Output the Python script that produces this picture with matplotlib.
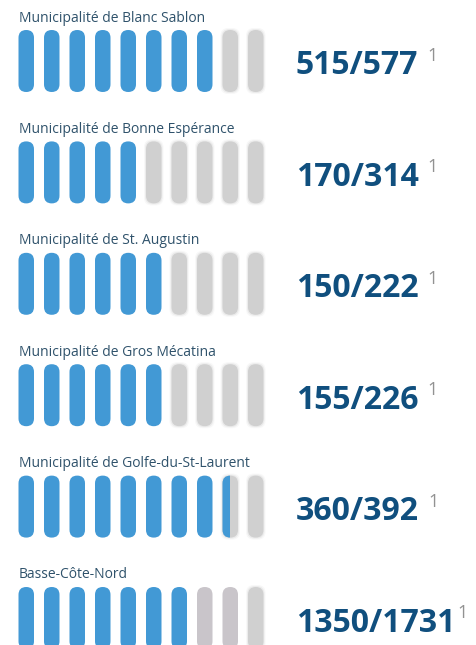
import matplotlib
matplotlib.use("Agg")
import matplotlib.pyplot as plt
from matplotlib.patches import FancyBboxPatch, Rectangle

labels = ["Municipalité de Blanc Sablon", "Municipalité de Bonne Espérance",
          "Municipalité de St. Augustin", "Municipalité de Gros Mécatina",
          "Municipalité de Golfe-du-St-Laurent", "Basse-Côte-Nord"]
numerators = [515, 170, 150, 155, 360, 1350]
denominators = [577, 314, 222, 226, 392, 1731]
filled_icons = [8, 5, 6, 6, 8.5, 7]
n_icons = 10

BLUE = "#4299d5"
GREY = "#d0d0d0"
GREY2 = "#c9c5ca"
NUM = "#104f7e"
LAB = "#2f526b"

W, H = 477, 645
fig = plt.figure(figsize=(W / 100, H / 100), dpi=100)
ax = fig.add_axes([0, 0, 1, 1])
ax.set_xlim(0, W)
ax.set_ylim(H, 0)
ax.axis("off")

x0, pitch, pw, ph = 18.5, 25.5, 15.5, 62
r = pw / 2

def pill(x, y, color, alpha=1.0, z=2, clip=None, blur=False):
    if blur:
        for k, a in [(2.0, 0.15), (1.0, 0.3)]:
            p = FancyBboxPatch((x + r - k, y + r - k), 2 * k, ph - 2 * r + 2 * k,
                               boxstyle=f"round,pad={r}", fc=color, ec="none",
                               alpha=a, zorder=z)
            ax.add_patch(p)
    p = FancyBboxPatch((x + r, y + r), 0, ph - 2 * r,
                       boxstyle=f"round,pad={r}", fc=color, ec="none",
                       alpha=alpha, zorder=z + 0.1)
    ax.add_patch(p)
    if clip is not None:
        p.set_clip_path(clip)
    return p

renderer = fig.canvas.get_renderer()
for i, (lab, num, den, f) in enumerate(zip(labels, numerators, denominators, filled_icons)):
    ytop = 30 + i * 111.4
    ax.text(19, ytop - 12, lab, fontsize=10, color=LAB, family="Open Sans",
            va="center", ha="left")
    for j in range(n_icons):
        x = x0 + j * pitch
        if j + 1 <= f:
            pill(x, ytop, BLUE)
        else:
            last = i == len(labels) - 1
            col = GREY2 if (last and j < n_icons - 1) else GREY
            pill(x, ytop, col, blur=not (last and j < n_icons - 1))
            frac = f - j
            if 0 < frac < 1:
                clip = Rectangle((x - 2, ytop - 2), pw * frac + 2, ph + 4,
                                 transform=ax.transData)
                pill(x, ytop, BLUE, z=3, clip=clip)
    txt = f"{num}/{den}"
    t = ax.text(296, ytop + 36, txt, fontsize=23, fontweight="bold", color=NUM,
                family="Open Sans", va="center", ha="left")
    bb = t.get_window_extent(renderer)
    right = bb.x1
    gap = 9 if i < 5 else 2
    ax.text(right + gap, ytop + 26, "1", fontsize=13, color="#929292",
            family="Open Sans", va="center", ha="left")

fig.savefig("out.png", dpi=100, facecolor="white")
